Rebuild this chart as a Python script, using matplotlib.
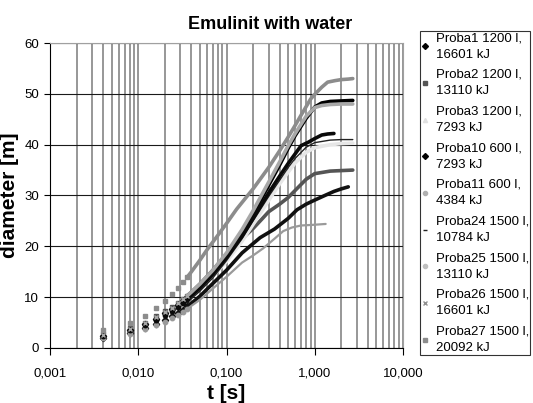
import numpy as np
import matplotlib
matplotlib.use("Agg")
import matplotlib.pyplot as plt
from matplotlib.lines import Line2D
from matplotlib.ticker import FixedLocator, FuncFormatter, LogLocator, NullFormatter

plt.rcParams['font.family'] = ['Liberation Sans', 'DejaVu Sans']

# early frames (separate markers), shared by all series
t_early = [0.004, 0.008, 0.012, 0.016, 0.020, 0.024, 0.028, 0.032, 0.036]

labels = ['Proba1 1200 l,\n16601 kJ', 'Proba2 1200 l,\n13110 kJ', 'Proba3 1200 l,\n7293 kJ',
          'Proba10 600 l,\n7293 kJ', 'Proba11 600 l,\n4384 kJ', 'Proba24 1500 l,\n10784 kJ',
          'Proba25 1500 l,\n13110 kJ', 'Proba26 1500 l,\n16601 kJ', 'Proba27 1500 l,\n20092 kJ']

p1_early = [2.4, 3.6, 4.7, 5.7, 6.8, 7.6, 8.5, 9.3, 10.0]
p1_t = [0.04, 0.05, 0.07, 0.1, 0.15, 0.2, 0.3, 0.4, 0.5, 0.6, 0.8, 1.0, 1.2, 1.5, 2.0, 2.7]
p1_d = [10.7, 12.2, 14.8, 18.0, 22.5, 26.3, 32.0, 36.0, 39.3, 41.8, 45.2, 47.4, 48.2, 48.5, 48.6, 48.7]

p2_early = [2.8, 4.0, 5.0, 6.2, 7.2, 8.0, 8.8, 9.6, 10.3]
p2_t = [0.04, 0.05, 0.07, 0.1, 0.15, 0.2, 0.25, 0.3, 0.4, 0.5, 0.6, 0.8, 1.0, 1.5, 2.0, 2.7]
p2_d = [11.0, 12.6, 15.3, 18.5, 21.5, 23.5, 25.3, 26.8, 28.3, 29.6, 31.0, 33.2, 34.3, 34.8, 34.9, 35.0]

p3_early = [2.3, 3.4, 4.4, 5.4, 6.4, 7.2, 8.0, 8.8, 9.5]
p3_t = [0.04, 0.05, 0.07, 0.1, 0.15, 0.2, 0.3, 0.4, 0.5, 0.6, 0.8, 1.0, 1.5, 2.0, 2.7]
p3_d = [10.2, 11.7, 14.2, 17.0, 21.0, 24.3, 29.0, 32.3, 34.6, 36.4, 38.5, 39.4, 40.0, 40.2, 40.3]

p10_early = [2.0, 3.0, 3.9, 4.7, 5.5, 6.2, 6.9, 7.5, 8.2]
p10_t = [0.04, 0.05, 0.07, 0.1, 0.15, 0.24, 0.35, 0.5, 0.63, 0.8, 1.0, 1.3, 1.65, 2.0, 2.4]
p10_d = [8.8, 10.2, 12.7, 15.3, 18.7, 21.7, 23.4, 25.5, 27.2, 28.3, 29.1, 30.0, 30.8, 31.3, 31.7]

p11_early = [1.9, 2.8, 3.7, 4.5, 5.2, 5.9, 6.5, 7.1, 7.7]
p11_t = [0.04, 0.05, 0.07, 0.1, 0.15, 0.2, 0.26, 0.35, 0.44, 0.55, 0.7, 0.9, 1.1, 1.33]
p11_d = [8.3, 9.5, 11.7, 14.0, 16.8, 18.2, 19.6, 21.5, 23.0, 23.7, 24.1, 24.2, 24.3, 24.4]

p24_early = [2.2, 3.3, 4.3, 5.2, 6.1, 6.9, 7.7, 8.4, 9.1]
p24_t = [0.04, 0.05, 0.07, 0.1, 0.15, 0.2, 0.3, 0.4, 0.5, 0.6, 0.8, 1.0, 1.5, 2.0, 2.7]
p24_d = [9.7, 11.2, 13.8, 17.2, 21.5, 25.0, 29.8, 33.0, 35.5, 37.3, 39.5, 40.4, 40.9, 41.0, 41.0]

p25_early = [2.3, 3.5, 4.5, 5.5, 6.5, 7.3, 8.1, 8.9, 9.6]
p25_t = [0.04, 0.05, 0.07, 0.1, 0.15, 0.2, 0.3, 0.4, 0.5, 0.7, 0.85, 1.0, 1.2, 1.4, 1.65]
p25_d = [10.3, 11.8, 14.5, 17.8, 22.0, 25.5, 30.5, 33.8, 36.3, 39.8, 40.5, 41.2, 41.9, 42.1, 42.2]

p26_early = [2.6, 3.8, 4.9, 6.0, 7.0, 7.9, 8.8, 9.6, 10.3]
p26_t = [0.04, 0.05, 0.07, 0.1, 0.15, 0.2, 0.3, 0.4, 0.5, 0.6, 0.8, 1.0, 1.2, 1.5, 2.0, 2.7]
p26_d = [11.0, 12.6, 15.3, 18.7, 23.3, 27.0, 32.6, 36.6, 39.8, 42.2, 45.6, 47.3, 47.7, 47.9, 48.0, 48.0]

p27_early = [3.5, 4.9, 6.3, 7.8, 9.3, 10.7, 11.8, 12.9, 14.0]
p27_t = [0.04, 0.05, 0.06, 0.08, 0.1, 0.13, 0.17, 0.2, 0.25, 0.3, 0.4, 0.5, 0.6, 0.7, 0.8, 0.9,
         1.0, 1.2, 1.4, 1.7, 2.0, 2.4, 2.7]
p27_d = [15.0, 17.3, 19.3, 22.2, 24.5, 27.3, 29.8, 31.3, 33.6, 35.5, 38.8, 41.5, 43.8, 45.8, 47.5, 49.0,
         49.9, 51.3, 52.3, 52.6, 52.8, 52.9, 53.0]

early = [p1_early, p2_early, p3_early, p10_early, p11_early, p24_early, p25_early, p26_early, p27_early]
late_t = [p1_t, p2_t, p3_t, p10_t, p11_t, p24_t, p25_t, p26_t, p27_t]
late_d = [p1_d, p2_d, p3_d, p10_d, p11_d, p24_d, p25_d, p26_d, p27_d]

line_colors = ['#000000', '#555555', '#e6e6e6', '#111111', '#9a9a9a', '#222222', '#0a0a0a', '#a8a8a8', '#8c8c8c']
leg_colors = ['#000000', '#555555', '#e0e0e0', '#000000', '#b0b0b0', '#222222', '#c0c0c0', '#909090', '#8c8c8c']
markers = ['D', 's', '^', 'D', 'o', '_', 'o', 'x', 's']
widths = [2.6, 2.6, 2.6, 2.6, 1.6, 1.0, 2.6, 2.6, 2.6]
draw_order = [8, 7, 0, 2, 6, 5, 1, 3, 4]

fig = plt.figure(figsize=(5.33, 4.03), dpi=100)
ax = fig.add_axes([0.094, 0.1365, 0.662, 0.7568])

for i in draw_order:
    ax.plot(t_early, early[i], linestyle='None', marker=markers[i], markersize=3.2,
            color=line_colors[i], markeredgewidth=1, zorder=3 + i * 0.1)
    ax.plot([t_early[-1]] + late_t[i], [early[i][-1]] + late_d[i], '-', color=line_colors[i],
            lw=widths[i], solid_capstyle='round', zorder=3 + i * 0.1)

ax.set_xscale('log')
ax.set_xlim(0.001, 10)
ax.set_ylim(0, 60)
ax.set_yticks(np.arange(0, 61, 10))
ax.xaxis.set_major_locator(FixedLocator([0.001, 0.01, 0.1, 1, 10]))
ax.xaxis.set_major_formatter(FuncFormatter(lambda v, p: ('%.3f' % v).replace('.', ',')))
ax.xaxis.set_minor_locator(LogLocator(base=10, subs=np.arange(2, 10)))
ax.xaxis.set_minor_formatter(NullFormatter())

ax.grid(True, axis='x', which='both', color='#7a7a7a', lw=1.1)
ax.grid(True, axis='y', which='major', color='#1a1a1a', lw=0.8)
ax.set_axisbelow(True)

ax.tick_params(axis='x', which='major', direction='out', length=5, labelsize=9.5, pad=9)
ax.tick_params(axis='x', which='minor', length=0)
ax.tick_params(axis='y', direction='out', length=4, labelsize=9.5, pad=4)

for s in ['top', 'right']:
    ax.spines[s].set_color('#a0a0a0')
for s in ['left', 'bottom']:
    ax.spines[s].set_color('#000000')

fig.text(0.507, 0.938, 'Emulinit with water', fontsize=13, fontweight='bold',
         ha='center', va='center')
ax.set_xlabel('t [s]', fontsize=15, fontweight='bold', labelpad=3)
ax.set_ylabel('diameter [m]', fontsize=15, fontweight='bold', labelpad=4)

handles = [Line2D([], [], linestyle='None', marker=markers[i], markersize=3,
                  color=leg_colors[i], markeredgewidth=1) for i in range(9)]
leg = fig.legend(handles, labels, loc='upper left', bbox_to_anchor=(0.788, 0.922),
                 fontsize=9.5, frameon=True, fancybox=False, edgecolor='#000000',
                 handlelength=0.6, handletextpad=0.55, labelspacing=0.62,
                 borderpad=0.05, borderaxespad=0)
leg.get_frame().set_linewidth(0.8)
for txt in leg.get_texts():
    txt.set_linespacing(1.5)

fig.savefig('out.png', dpi=100)
